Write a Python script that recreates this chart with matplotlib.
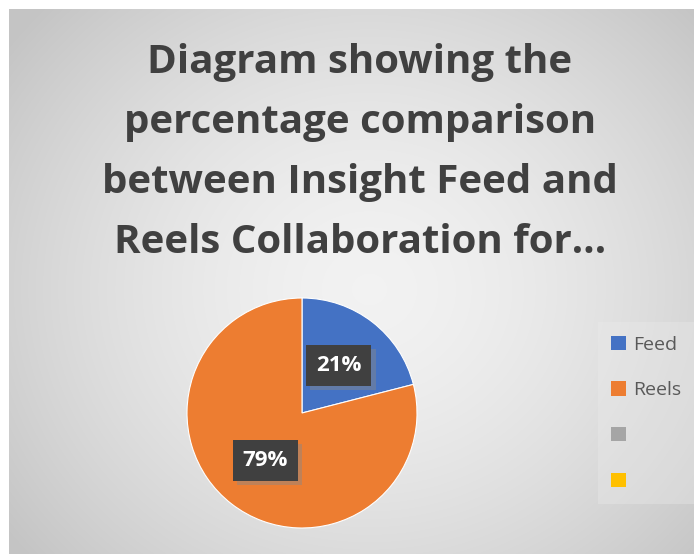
import numpy as np
import matplotlib.pyplot as plt
import matplotlib.patheffects as pe
from matplotlib.patches import Patch

# dados do gráfico
categorias = ['Feed', 'Reels', '', '']
valores = [21, 79]
rotulos = ['21%', '79%']
cores = ['#4472C4', '#ED7D31', '#A5A5A5', '#FFC000']
titulo = ('Diagram showing the\npercentage comparison\n'
          'between Insight Feed and\nReels Collaboration for…')

W, H = 694, 554
fig = plt.figure(figsize=(W / 100, H / 100), dpi=100)
fig.patch.set_facecolor('white')

# fundo com gradiente radial (área do gráfico)
bg = fig.add_axes([9 / W, 0, (W - 9) / W, (H - 9) / H])
yy, xx = np.mgrid[0:H - 9, 0:W - 9]
d = np.sqrt(((xx - 360) / 420.0) ** 2 + ((yy - 280) / 380.0) ** 2)
g = np.clip(0.95 - 0.16 * d ** 1.6, 0.77, 0.95)
bg.imshow(np.dstack([g, g, g]), aspect='auto', interpolation='bilinear')
bg.axis('off')

fig.text(360 / W, 1 - 153 / H, titulo, ha='center', va='center',
         fontsize=29, fontweight='bold', color='#404040',
         family='Open Sans', linespacing=1.7)

# pizza
cx, cy, r = 302, 413, 115
ax = fig.add_axes([(cx - r) / W, (H - cy - r) / H, 2 * r / W, 2 * r / H])
wedges, _ = ax.pie(valores, colors=cores[:2], startangle=90, counterclock=False,
                   wedgeprops=dict(linewidth=0.8, edgecolor='white'))
ax.set_xlim(-1, 1)
ax.set_ylim(-1, 1)
ax.set_aspect('equal')
ax.axis('off')

# rótulos com caixa escura
ang = 90
for v, lab in zip(valores, rotulos):
    meio = np.deg2rad(ang - v * 3.6 / 2)
    ang -= v * 3.6
    t = ax.text(0.52 * np.cos(meio), 0.52 * np.sin(meio), lab,
                ha='center', va='center', fontsize=16, fontweight='bold',
                color='white', family='Open Sans',
                bbox=dict(boxstyle='square,pad=0.45', fc='#404040', ec='none'))
    t.get_bbox_patch().set_path_effects(
        [pe.SimplePatchShadow(offset=(3, -3), shadow_rgbFace='#888888', alpha=0.45),
         pe.Normal()])

handles = [Patch(facecolor=c, edgecolor='none') for c in cores]
leg = fig.legend(handles, categorias, loc='center left',
                 bbox_to_anchor=(588 / W, 1 - 413 / H), frameon=True,
                 labelspacing=1.42, handlelength=0.75,
                 handleheight=0.75, handletextpad=0.35, borderpad=0.7,
                 labelcolor='#595959', prop={'family': 'Open Sans', 'size': 14})
leg.get_frame().set_facecolor('#ececec')
leg.get_frame().set_edgecolor('none')
leg.get_frame().set_alpha(0.35)
leg.get_frame().set_boxstyle('square', pad=0)

fig.savefig('out.png', dpi=100)
